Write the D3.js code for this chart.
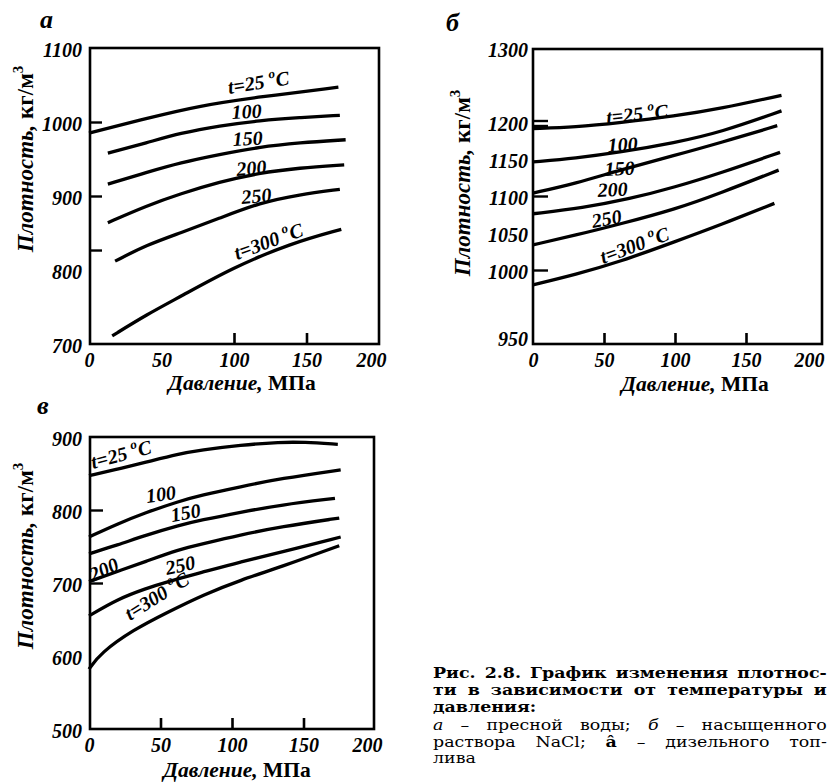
<!DOCTYPE html>
<html>
<head>
<meta charset="utf-8">
<script src="https://cdn.jsdelivr.net/npm/d3@7"></script>
<style>
body { margin: 0; background: white; }
text { white-space: pre; }
</style>
</head>
<body>
<div id="main"></div>
<script>
const ctx = {
    width : 829,
    height : 783,
    serif : "'Liberation Serif', 'Times New Roman', serif",
    captionFont : "'DejaVu Serif', serif",
    fontSize : 20,
    titleSize : 21.5,
    curveWidth : 3.3,
    frameWidth : 2.6
};

// shared text
const pressureTicks = [0, 50, 100, 150, 200];
const curveLabels = ["t=25 °C", "100", "150", "200", "250", "t=300 °C"];
const yTitleParts = ["Плотность,", " кг/м", "3"];
const xTitleParts = ["Давление,", " МПа"];

// а - fresh water, [pressure MPa, density kg/m3]
const water25 = [[0, 985], [40, 1005], [76, 1022], [118, 1034], [172, 1047]];
const water100 = [[13, 958], [40, 972], [63, 985], [90, 995], [118, 1002], [145, 1006], [173, 1009]];
const water150 = [[13, 916], [40, 932], [63, 945], [90, 956], [117, 966], [145, 972], [177, 976]];
const water200 = [[13, 864], [40, 887], [63, 903], [90, 919], [117, 931], [145, 938], [176, 942]];
const water250 = [[18, 812], [40, 834], [63, 850], [90, 870], [118, 891], [145, 902], [173, 909]];
const water300 = [[16, 711], [40, 740], [63, 764], [99, 803], [139, 836], [174, 855]];
const waterYLabels = [700, 800, 900, 1000, 1100];
const waterYMarks = [1000, 900, 827];
const waterXMarks = [100, 150];

// б - saturated NaCl solution
const brine25 = [[0, 1191], [30, 1193], [61, 1199], [100, 1208], [132, 1218], [175, 1236]];
const brine100 = [[0, 1146], [30, 1151], [61, 1159], [100, 1172], [132, 1186], [175, 1215]];
const brine150 = [[0, 1104], [30, 1117], [61, 1135], [100, 1155], [132, 1172], [172, 1195]];
const brine200 = [[0, 1076], [35, 1084], [68, 1096], [100, 1112], [132, 1131], [174, 1159]];
const brine250 = [[0, 1034], [30, 1047], [61, 1062], [100, 1082], [132, 1104], [173, 1135]];
const brine300 = [[0, 990], [30, 997], [61, 1011], [101, 1039], [132, 1061], [170, 1090]];
const brineYLabels = [950, 1000, 1050, 1100, 1150, 1200, 1300];
const brineYMarks = [1200, 1100, 1000];
const brineXMarks = [50, 100, 150];

// в - diesel fuel
const diesel25 = [[0, 847], [20, 856], [39, 865], [63, 877], [78, 882], [106, 889], [134, 893], [150, 893], [174, 890]];
const diesel100 = [[0, 763], [20, 781], [39, 796], [63, 812], [78, 820], [106, 832], [134, 843], [176, 855]];
const diesel150 = [[0, 740], [20, 752], [39, 765], [63, 779], [78, 786], [106, 797], [134, 807], [172, 816]];
const diesel200 = [[0, 702], [20, 716], [39, 729], [63, 746], [78, 753], [106, 766], [134, 777], [175, 789]];
const diesel250 = [[0, 655], [20, 678], [39, 692], [55, 702], [78, 714], [106, 729], [134, 742], [176, 763]];
const diesel300 = [[0, 582], [8, 604], [31, 636], [55, 660], [80, 684], [106, 704], [134, 722], [175, 751]];
const dieselYLabels = [500, 600, 700, 800, 900];
const dieselYMarks = [800, 700];
const dieselXMarks = [50, 100, 150];

const captionLines = [
    [["Рис. 2.8. График изменения плотнос-", "b"]],
    [["ти в зависимости от температуры и", "b"]],
    [["давления:", "b"]],
    [["а", "i"], [" – пресной воды; ", "n"], ["б", "i"], [" – насыщенного", "n"]],
    [["раствора NaCl; ", "n"], ["â", "b"], [" – дизельного топ-", "n"]],
    [["лива", "n"]]
];

function createViz(){
    let svg = d3.select("#main").append("svg")
        .attr("width", ctx.width)
        .attr("height", ctx.height);
    svg.append("rect")
        .attr("width", ctx.width)
        .attr("height", ctx.height)
        .attr("fill", "white");

    drawPanel(svg, {
        letter : "а", letterPos : [40, 28],
        series : [water25, water100, water150, water200, water250, water300],
        frame : [90, 48, 379, 344],
        xRange : [89, 379],
        yDomain : [700, 1100], yRange : [344, 48],
        yLabels : waterYLabels, yMarks : waterYMarks, xMarks : waterXMarks,
        yMarkLen : 12, labelX : 82,
        yTitle : [25, 159], xTitle : [242, 390],
        curveLabelPos : [[229, 94, -9], [232, 119, -3], [233, 146, -3], [237, 176, -5], [242, 204, -5], [237, 260, -20]]
    });
    drawPanel(svg, {
        letter : "б", letterPos : [446, 31],
        series : [brine25, brine100, brine150, brine200, brine250, brine300],
        frame : [533, 49, 822, 344],
        xRange : [533, 817],
        yDomain : [950, 1000, 1300], yRange : [344, 270, 48],
        yLabels : brineYLabels, yMarks : brineYMarks, xMarks : brineXMarks,
        yMarkLen : 15, labelX : 528, doubleMark : 1200,
        yTitle : [462, 183], xTitle : [695, 391],
        curveLabelPos : [[607, 124, -6], [608, 152, -3], [605, 176, -3], [598, 197, -3], [593, 228, -10], [603, 264, -20]]
    });
    drawPanel(svg, {
        letter : "в", letterPos : [37, 414],
        series : [diesel25, diesel100, diesel150, diesel200, diesel250, diesel300],
        frame : [90, 437, 374, 729],
        xRange : [89, 375],
        yDomain : [500, 900], yRange : [729, 437],
        yLabels : dieselYLabels, yMarks : dieselYMarks, xMarks : dieselXMarks,
        yMarkLen : 13, labelX : 82,
        yTitle : [25, 556], xTitle : [237, 777],
        curveLabelPos : [[93, 469, -15], [147, 503, -8], [172, 522, -10], [93, 582, -25], [167, 575, -12], [130, 621, -32]]
    });

    drawCaption(svg);
}

function drawPanel(svg, p){
    let g = svg.append("g");
    let x = d3.scaleLinear().domain([0, 200]).range(p.xRange);
    let y = d3.scaleLinear().domain(p.yDomain).range(p.yRange);
    let line = d3.line()
        .x(d => x(d[0]))
        .y(d => y(d[1]))
        .curve(d3.curveBasis);

    g.selectAll("path.curve")
        .data(p.series)
        .enter()
        .append("path")
        .attr("class", "curve")
        .attr("d", line)
        .attr("fill", "none")
        .attr("stroke", "black")
        .attr("stroke-width", ctx.curveWidth);

    g.append("rect")
        .attr("x", p.frame[0])
        .attr("y", p.frame[1])
        .attr("width", p.frame[2] - p.frame[0])
        .attr("height", p.frame[3] - p.frame[1])
        .attr("fill", "none")
        .attr("stroke", "black")
        .attr("stroke-width", ctx.frameWidth);

    // tick marks pointing into the frame
    let yMarks = g.append("g")
        .attr("transform", "translate(" + p.frame[0] + ",0)")
        .call(d3.axisRight(y).tickValues(p.yMarks).tickSize(p.yMarkLen).tickFormat(""));
    yMarks.select(".domain").remove();
    yMarks.selectAll("line").attr("stroke-width", 2.4);
    if (p.doubleMark){
        yMarks.selectAll(".tick").filter(d => d === p.doubleMark).each(function(){
            let t = d3.select(this);
            t.select("line").attr("transform", "translate(0,-1.5)");
            t.append("line").attr("x2", p.yMarkLen).attr("stroke", "currentColor")
                .attr("stroke-width", 2.4).attr("transform", "translate(0,3.5)");
        });
    }
    let xMarks = g.append("g")
        .attr("transform", "translate(0," + p.frame[3] + ")")
        .call(d3.axisTop(x).tickValues(p.xMarks).tickSize(11).tickFormat(""));
    xMarks.select(".domain").remove();
    xMarks.selectAll("line").attr("stroke-width", 2.6);

    // tick labels
    let yAxis = g.append("g")
        .attr("transform", "translate(" + p.frame[0] + ",0)")
        .call(d3.axisLeft(y).tickValues(p.yLabels).tickSize(0)
            .tickPadding(p.frame[0] - p.labelX).tickFormat(d3.format("d")));
    yAxis.select(".domain").remove();
    yAxis.attr("font-family", ctx.serif).attr("font-size", ctx.fontSize)
        .attr("font-weight", "bold").attr("font-style", "italic");
    yAxis.selectAll("text").attr("dy", "0.4em")
        .filter(d => d === p.yDomain[0] && p.yDomain.length > 2)
        .attr("dy", "0.05em");

    let xAxis = g.append("g")
        .attr("transform", "translate(0," + p.frame[3] + ")")
        .call(d3.axisBottom(x).tickValues(pressureTicks).tickSize(0).tickPadding(9)
            .tickFormat(d3.format("d")));
    xAxis.select(".domain").remove();
    xAxis.attr("font-family", ctx.serif).attr("font-size", ctx.fontSize)
        .attr("font-weight", "bold").attr("font-style", "italic");
    xAxis.selectAll("text").filter(d => d === 200).attr("dx", -8);

    // curve labels
    g.selectAll("text.curveLabel")
        .data(curveLabels)
        .enter()
        .append("text")
        .attr("class", "curveLabel")
        .attr("transform", (d, i) => "translate(" + p.curveLabelPos[i][0] + "," + p.curveLabelPos[i][1] + ") rotate(" + p.curveLabelPos[i][2] + ")")
        .attr("font-family", ctx.serif)
        .attr("font-size", ctx.fontSize)
        .attr("font-weight", "bold")
        .attr("font-style", "italic")
        .each(function(d){ appendTempLabel(d3.select(this), d); });

    // panel letter
    g.append("text")
        .attr("x", p.letterPos[0])
        .attr("y", p.letterPos[1])
        .attr("font-family", ctx.serif)
        .attr("font-size", 26)
        .attr("font-weight", "bold")
        .attr("font-style", "italic")
        .text(p.letter);

    // axis titles
    let yt = g.append("text")
        .attr("transform", "translate(" + p.yTitle[0] + "," + p.yTitle[1] + ") rotate(-90)")
        .attr("text-anchor", "middle")
        .attr("dy", "0.35em")
        .attr("font-family", ctx.serif)
        .attr("font-size", 23)
        .attr("font-weight", "bold");
    yt.append("tspan").attr("font-style", "italic").text(yTitleParts[0]);
    yt.append("tspan").text(yTitleParts[1]);
    yt.append("tspan").attr("font-size", 15).attr("dy", -10).text(yTitleParts[2]);

    let xt = g.append("text")
        .attr("x", p.xTitle[0])
        .attr("y", p.xTitle[1])
        .attr("text-anchor", "middle")
        .attr("font-family", ctx.serif)
        .attr("font-size", ctx.titleSize)
        .attr("font-weight", "bold");
    xt.append("tspan").attr("font-style", "italic").text(xTitleParts[0]);
    xt.append("tspan").text(xTitleParts[1]);
}

function appendTempLabel(sel, label){
    let i = label.indexOf("°");
    if (i < 0){
        sel.text(label);
        return;
    }
    sel.append("tspan").text(label.slice(0, i));
    sel.append("tspan").attr("font-size", 13).attr("dy", -9).text("o");
    sel.append("tspan").attr("dy", 9).text(label.slice(i + 1));
}

function drawCaption(svg){
    // the book face is wider than DejaVu Serif, so each line is stretched sideways
    let maxStretch = 1.16;
    let g = svg.append("g").attr("font-family", ctx.captionFont).attr("font-size", 15);
    let baselines = [678, 695, 712, 730, 747, 763];
    let justified = [true, true, false, true, true, false];
    let lineWidth = 394;
    captionLines.forEach((parts, i) => {
        let t = g.append("text");
        parts.forEach(part => {
            t.append("tspan")
                .attr("font-weight", part[1] === "b" ? "bold" : "normal")
                .attr("font-style", part[1] === "i" ? "italic" : "normal")
                .text(part[0]);
        });
        let full = parts.map(q => q[0]).join("");
        let spaces = full.split(" ").length - 1;
        let w = t.node().getComputedTextLength();
        let sx = maxStretch;
        if (justified[i]){
            sx = Math.min(maxStretch, lineWidth / (w + spaces * 2));
            t.attr("word-spacing", (lineWidth / sx - w) / spaces);
        }
        t.attr("transform", "translate(433," + baselines[i] + ") scale(" + sx + ",1)");
    });
}

createViz();
</script>
</body>
</html>
